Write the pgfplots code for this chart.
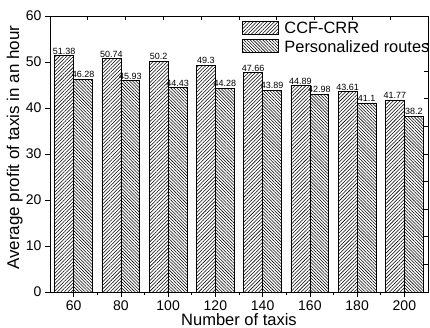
\documentclass[border=0pt]{standalone}
\usepackage{pgfplots}
\pgfplotsset{compat=1.18}
\usepackage{pgfplotstable}
\usepackage{fontspec}
\setmainfont{Liberation Sans}
\usetikzlibrary{patterns.meta}

\pgfplotstableread{
n a b
60 51.38 46.28
80 50.74 45.93
100 50.2 44.43
120 49.3 44.28
140 47.66 43.89
160 44.89 42.98
180 43.61 41.1
200 41.77 38.2
}\data

\begin{document}
\begin{tikzpicture}
\useasboundingbox (-50pt,-36pt) rectangle (380pt,292pt);
\begin{axis}[
  at={(0,0)}, anchor=south west,
  scale only axis, width=378pt, height=276pt,
  xmin=50, xmax=210, ymin=0, ymax=60,
  xtick={60,80,...,200}, minor xtick={70,90,...,190},
  ytick={0,10,...,60},
  tick pos=left, tick align=outside,
  major tick length=5pt, minor tick length=3pt,
  every tick/.style={black, line width=0.7pt},
  axis line style={line width=0.8pt},
  ticklabel style={font=\fontsize{14}{16}\selectfont},
  /pgf/number format/assume math mode=true,
  xlabel={Number of taxis},
  ylabel={Average profit of taxis in an hour},
  xlabel style={font=\fontsize{16.5}{18}\selectfont, at={(axis description cs:0.5,-0.123)}, anchor=base},
  ylabel style={font=\fontsize{17}{19}\selectfont, at={(axis description cs:-0.082,0.523)}, anchor=base},
  ybar, bar width=8,
  nodes near coords,
  point meta=explicit symbolic,
  nodes near coords style={font=\fontsize{9}{10}\selectfont, inner sep=1pt, anchor=south},
  legend image code/.code={\draw[#1] (0pt,-5.5pt) rectangle (36pt,7.5pt); \path (42pt,0pt);},
  legend style={draw=none, fill=none, at={(axis description cs:0.507,0.982)}, anchor=north west,
    font=\fontsize{16.4}{18}\selectfont, inner sep=0pt, row sep=4pt,
    nodes={inner sep=0pt}},
  legend cell align=left,
]
\addplot[draw=black, line width=0.6pt, bar shift=-4,
  pattern={Lines[angle=45,distance=2.5pt,line width=0.55pt]}]
  table[x=n, y=a, meta=a]{\data};
\addlegendentry{CCF-CRR}
\addplot[draw=black, line width=0.6pt, bar shift=4,
  pattern={Lines[angle=-45,distance=2.2pt,line width=0.55pt]}]
  table[x=n, y=b, meta=b]{\data};
\addlegendentry{Personalized routes}
\end{axis}
\begin{axis}[
  at={(0,0)}, anchor=south west,
  scale only axis, width=378pt, height=276pt,
  xmin=0, xmax=10, ymin=0, ymax=10,
  xtick={1,...,9}, ytick={1,...,9},
  xticklabels={}, yticklabels={},
  tick pos=right, tick align=inside,
  major tick length=4pt,
  every tick/.style={black, line width=0.7pt},
  axis line style={line width=0.8pt},
]
\end{axis}
\end{tikzpicture}
\end{document}
